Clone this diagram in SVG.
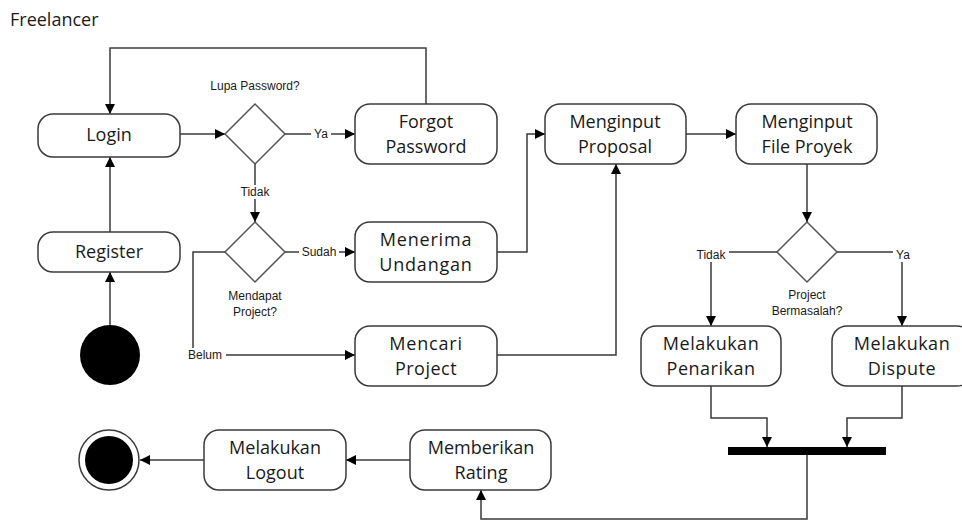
<svg xmlns="http://www.w3.org/2000/svg" width="962" height="520" viewBox="0 0 962 520">
  <style>
    .act { fill: #ffffff; stroke: #3a3a3a; stroke-width: 1.5; }
    .dec { fill: #ffffff; stroke: #555555; stroke-width: 1.5; }
    .lbl { font-family: "Open Sans", "Liberation Sans", sans-serif; font-size: 18px; fill: #1a1a1a; text-anchor: middle; }
    .sm { font-family: "Liberation Sans", "Open Sans", sans-serif; font-size: 12px; fill: #1a1a1a; }
    .c { text-anchor: middle; }
    .edge { fill: none; stroke: #3a3a3a; stroke-width: 1.5; }
    .bg { fill: #ffffff; }
  </style>
  <defs>
    <marker id="arrow" viewBox="0 0 10 10" refX="10" refY="5" markerWidth="10" markerHeight="10" markerUnits="userSpaceOnUse" orient="auto">
      <path d="M0,0 L10,5 L0,10 Z" fill="#000000"/>
    </marker>
  </defs>
  <rect width="962" height="520" fill="#ffffff"/>

  <text x="10" y="26" font-family="Open Sans, Liberation Sans, sans-serif" font-size="18" fill="#1a1a1a">Freelancer</text>

  <g id="connectors">
    <!-- Login to decision -->
    <path class="edge" d="M180,134 H225" marker-end="url(#arrow)"/>
    <!-- decision to Forgot Password -->
    <path class="edge" d="M285,134 H355" marker-end="url(#arrow)"/>
    <!-- Forgot Password back to Login -->
    <path class="edge" d="M426,104 V48 H110 V114" marker-end="url(#arrow)"/>
    <!-- Register to Login -->
    <path class="edge" d="M110,232 V157" marker-end="url(#arrow)"/>
    <!-- Start to Register -->
    <path class="edge" d="M110,325 V272" marker-end="url(#arrow)"/>
    <!-- decision 1 to decision 2 -->
    <path class="edge" d="M255,164 V222" marker-end="url(#arrow)"/>
    <!-- decision 2 to Menerima Undangan -->
    <path class="edge" d="M285,252 H355" marker-end="url(#arrow)"/>
    <!-- decision 2 to Mencari Project -->
    <path class="edge" d="M225,252 H193 V355 H355" marker-end="url(#arrow)"/>
    <!-- Menerima Undangan to Menginput Proposal -->
    <path class="edge" d="M497,252 H527 V134 H545" marker-end="url(#arrow)"/>
    <!-- Mencari Project to Menginput Proposal -->
    <path class="edge" d="M497,355 H616 V164" marker-end="url(#arrow)"/>
    <!-- Proposal to File Proyek -->
    <path class="edge" d="M686,134 H736" marker-end="url(#arrow)"/>
    <!-- File Proyek to decision 3 -->
    <path class="edge" d="M807,164 V222" marker-end="url(#arrow)"/>
    <!-- decision 3 branches -->
    <path class="edge" d="M777,252 H711 V326" marker-end="url(#arrow)"/>
    <path class="edge" d="M836,252 H902 V326" marker-end="url(#arrow)"/>
    <!-- into join bar -->
    <path class="edge" d="M711,386 V418 H767 V447" marker-end="url(#arrow)"/>
    <path class="edge" d="M902,386 V418 H847 V447" marker-end="url(#arrow)"/>
    <!-- join bar to Rating -->
    <path class="edge" d="M807,455 V519 H481 V490" marker-end="url(#arrow)"/>
    <!-- Rating to Logout to end -->
    <path class="edge" d="M410,460 H346" marker-end="url(#arrow)"/>
    <path class="edge" d="M204,460 H140" marker-end="url(#arrow)"/>

    <!-- edge labels -->
    <rect class="bg" x="311" y="127" width="20" height="14"/>
    <text class="sm c" x="321" y="138">Ya</text>
    <rect class="bg" x="237" y="185" width="36" height="14"/>
    <text class="sm c" x="255" y="196">Tidak</text>
    <rect class="bg" x="299" y="245" width="40" height="14"/>
    <text class="sm c" x="319" y="256">Sudah</text>
    <rect class="bg" x="184" y="348" width="42" height="14"/>
    <text class="sm c" x="205" y="359">Belum</text>
    <rect class="bg" x="693" y="248" width="36" height="14"/>
    <text class="sm c" x="711" y="259">Tidak</text>
    <rect class="bg" x="893" y="248" width="20" height="14"/>
    <text class="sm c" x="903" y="259">Ya</text>
  </g>

  <g id="start">
    <circle cx="110" cy="355" r="30" fill="#000000"/>
  </g>

  <g id="login">
    <rect class="act" x="38" y="114" width="142" height="43" rx="15"/>
    <text class="lbl" x="109" y="141">Login</text>
  </g>

  <g id="register">
    <rect class="act" x="38" y="232" width="142" height="40" rx="15"/>
    <text class="lbl" x="109" y="258">Register</text>
  </g>

  <g id="lupa-password">
    <polygon class="dec" points="255,104 285,134 255,164 225,134"/>
    <text class="sm c" x="255" y="90">Lupa Password?</text>
  </g>

  <g id="forgot-password">
    <rect class="act" x="355" y="104" width="142" height="60" rx="15"/>
    <text class="lbl" x="426" y="128">Forgot</text>
    <text class="lbl" x="426" y="153">Password</text>
  </g>

  <g id="mendapat-project">
    <polygon class="dec" points="255,222 285,252 255,282 225,252"/>
    <text class="sm c" x="255" y="300">Mendapat</text>
    <text class="sm c" x="255" y="316">Project?</text>
  </g>

  <g id="menerima-undangan">
    <rect class="act" x="355" y="222" width="142" height="60" rx="15"/>
    <text class="lbl" x="426" y="246" letter-spacing="0.8">Menerima</text>
    <text class="lbl" x="426" y="271" letter-spacing="0.8">Undangan</text>
  </g>

  <g id="mencari-project">
    <rect class="act" x="355" y="326" width="142" height="60" rx="15"/>
    <text class="lbl" x="426" y="350" letter-spacing="0.8">Mencari</text>
    <text class="lbl" x="426" y="375" letter-spacing="0.5">Project</text>
  </g>

  <g id="menginput-proposal">
    <rect class="act" x="545" y="104" width="141" height="60" rx="15"/>
    <text class="lbl" x="615" y="128">Menginput</text>
    <text class="lbl" x="615" y="153">Proposal</text>
  </g>

  <g id="menginput-file">
    <rect class="act" x="736" y="104" width="141" height="60" rx="15"/>
    <text class="lbl" x="807" y="128">Menginput</text>
    <text class="lbl" x="807" y="153">File Proyek</text>
  </g>

  <g id="project-bermasalah">
    <polygon class="dec" points="807,222 837,252 807,282 777,252"/>
    <text class="sm c" x="807" y="299">Project</text>
    <text class="sm c" x="807" y="315">Bermasalah?</text>
  </g>

  <g id="penarikan">
    <rect class="act" x="641" y="326" width="140" height="60" rx="15"/>
    <text class="lbl" x="711" y="350" letter-spacing="0.5">Melakukan</text>
    <text class="lbl" x="711" y="375" letter-spacing="0.5">Penarikan</text>
  </g>

  <g id="dispute">
    <rect class="act" x="832" y="326" width="140" height="60" rx="15"/>
    <text class="lbl" x="902" y="350" letter-spacing="0.5">Melakukan</text>
    <text class="lbl" x="902" y="375" letter-spacing="0.5">Dispute</text>
  </g>

  <g id="join">
    <rect x="728" y="447" width="158" height="8" fill="#000000"/>
  </g>

  <g id="rating">
    <rect class="act" x="410" y="430" width="141" height="60" rx="15"/>
    <text class="lbl" x="481" y="454">Memberikan</text>
    <text class="lbl" x="481" y="479">Rating</text>
  </g>

  <g id="logout">
    <rect class="act" x="204" y="430" width="142" height="60" rx="15"/>
    <text class="lbl" x="275" y="454">Melakukan</text>
    <text class="lbl" x="275" y="479">Logout</text>
  </g>

  <g id="end">
    <circle cx="109" cy="460" r="30" fill="#ffffff" stroke="#3a3a3a" stroke-width="1.5"/>
    <circle cx="109" cy="460" r="24" fill="#000000"/>
  </g>
</svg>
